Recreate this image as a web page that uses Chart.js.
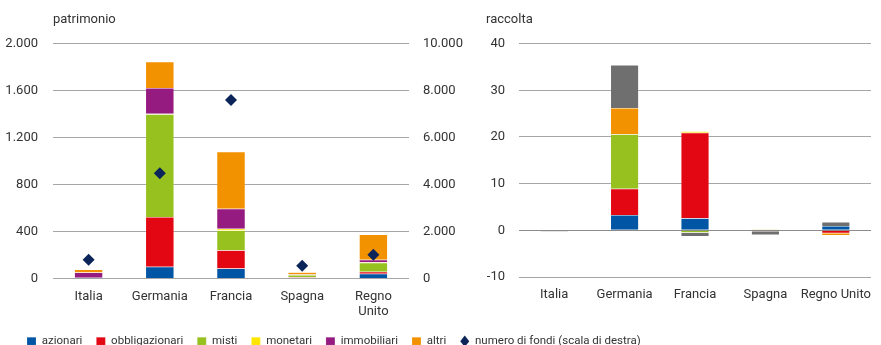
<!DOCTYPE html>
<html>
<head>
<meta charset="utf-8">
<script src="https://cdn.jsdelivr.net/npm/chart.js@4/dist/chart.umd.min.js"></script>
<style>
  html, body { margin: 0; padding: 0; background: #fff; overflow: hidden; }
  #wrap { position: relative; width: 881px; height: 345px; overflow: hidden; }
  .box { position: absolute; top: 0; }
</style>
</head>
<body>
<div id="wrap">
  <div class="box" style="left:0;width:881px;height:357px"><canvas id="patrimonio"></canvas></div>
  <div class="box" style="left:480px;width:401px;height:310px"><canvas id="raccolta"></canvas></div>
</div>
<script>
// categorie
const categorie = ['Italia', 'Germania', 'Francia', 'Spagna', 'Regno Unito'];
const categorieSx = [['Italia'], ['Germania'], ['Francia'], ['Spagna'], ['Regno', 'Unito']];

// patrimonio (scala di sinistra)
const patAzionari = [2, 100, 86, 6, 40];
const patObbligazionari = [2, 423, 154, 6, 18];
const patMisti = [2, 875, 169, 18, 77];
const patMonetari = [0, 5, 14, 2, 3];
const patImmobiliari = [45, 220, 171, 4, 22];
const patAltri = [26, 223, 486, 18, 214];
// numero di fondi (scala di destra)
const numeroFondi = [800, 4480, 7600, 540, 1010];

// raccolta
const racAzionari = [0, 3.3, 2.6, 0, 0.9];
const racObbligazionari = [0, 5.6, 18.3, -0.2, -0.65];
const racMisti = [0, 11.7, -0.5, 0.25, 0];
const racMonetari = [0, 0, 0.35, 0, 0];
const racImmobiliari = [0, 0, 0, 0, 0];
const racAltri = [0, 5.6, 0, 0, -0.45];
const racNonClassificati = [-0.3, 9.2, -0.85, -0.8, 0.9];

// tick
const tickPatrimonio = [0, 400, 800, 1200, 1600, 2000];
const tickFondi = [0, 2000, 4000, 6000, 8000, 10000];
const tickRaccolta = [-10, 0, 10, 20, 30, 40];

const colori = {
    azionari: '#0055a4',
    obbligazionari: '#e30613',
    misti: '#96c11f',
    monetari: '#ffe500',
    immobiliari: '#951b81',
    altri: '#f39200',
    grigio: '#6f6f6f',
    fondi: '#0b2459'
};

const font = 'Roboto, "Liberation Sans", sans-serif';
const testo = '#333';

function migliaia(v) {
    return String(v).replace(/\B(?=(\d{3})+(?!\d))/g, '.');
}

function barra(label, data, colore) {
    return {
        type: 'bar',
        label: label,
        data: data,
        backgroundColor: colore,
        borderColor: 'rgba(255,255,255,0.35)',
        borderWidth: 0.5,
        barPercentage: 0.4,
        categoryPercentage: 1,
        pointStyle: 'rect',
        yAxisID: 'y',
        order: 1
    };
}

const griglia = { color: '#a6a6a6', lineWidth: 1, drawTicks: false };

// sposta la legenda un po' a destra, come nell'originale
const spostaLegenda = {
    id: 'spostaLegenda',
    afterLayout(chart) {
        if (chart.legend) {
            chart.legend.left += 13;
            chart.legend.right += 13;
        }
    }
};

// grafico di sinistra: patrimonio (la tela copre tutta la larghezza per la legenda)
new Chart(document.getElementById('patrimonio'), {
    data: {
        labels: categorieSx,
        datasets: [
            barra('azionari', patAzionari, colori.azionari),
            barra('obbligazionari', patObbligazionari, colori.obbligazionari),
            barra('misti', patMisti, colori.misti),
            barra('monetari', patMonetari, colori.monetari),
            barra('immobiliari', patImmobiliari, colori.immobiliari),
            barra('altri', patAltri, colori.altri),
            {
                type: 'line',
                label: 'numero di fondi (scala di destra)',
                data: numeroFondi,
                showLine: false,
                pointStyle: 'rectRot',
                pointRadius: 6,
                backgroundColor: colori.fondi,
                borderColor: colori.fondi,
                borderWidth: 0,
                yAxisID: 'y1',
                order: 0
            }
        ]
    },
    plugins: [spostaLegenda],
    options: {
        responsive: true,
        maintainAspectRatio: false,
        animation: false,
        layout: { padding: 0 },
        plugins: {
            title: {
                display: true,
                text: 'patrimonio',
                align: 'start',
                fullSize: false,
                color: testo,
                font: { family: font, size: 13, weight: 'normal' },
                padding: { top: 12, bottom: 16 }
            },
            legend: {
                position: 'bottom',
                align: 'start',
                labels: {
                    usePointStyle: true,
                    pointStyleWidth: 9,
                    boxHeight: 8,
                    padding: 14,
                    color: testo,
                    font: { family: font, size: 11.5 },
                    sort: (a, b) => a.datasetIndex - b.datasetIndex
                }
            },
            tooltip: { enabled: false }
        },
        scales: {
            x: {
                stacked: true,
                grid: { display: false, drawTicks: false },
                border: { display: false },
                ticks: { color: testo, font: { family: font, size: 13 }, padding: 10, maxRotation: 0 },
                afterFit: function(scale) { scale.height = 43; }
            },
            y: {
                stacked: true,
                min: 0,
                max: 2000,
                afterBuildTicks: function(scale) { scale.ticks = tickPatrimonio.map(v => ({ value: v })); },
                grid: griglia,
                border: { display: false },
                ticks: { color: testo, font: { family: font, size: 13 }, padding: 15, callback: v => migliaia(v) },
                afterFit: function(scale) { scale.width = 53; }
            },
            y1: {
                position: 'right',
                min: 0,
                max: 10000,
                afterBuildTicks: function(scale) { scale.ticks = tickFondi.map(v => ({ value: v })); },
                grid: { display: false, drawTicks: false },
                border: { display: false },
                ticks: { color: testo, font: { family: font, size: 13 }, padding: 14, callback: v => migliaia(v) },
                afterFit: function(scale) { scale.width = 472; }
            }
        }
    }
});

// grafico di destra: raccolta
new Chart(document.getElementById('raccolta'), {
    data: {
        labels: categorie,
        datasets: [
            barra('azionari', racAzionari, colori.azionari),
            barra('obbligazionari', racObbligazionari, colori.obbligazionari),
            barra('misti', racMisti, colori.misti),
            barra('monetari', racMonetari, colori.monetari),
            barra('immobiliari', racImmobiliari, colori.immobiliari),
            barra('altri', racAltri, colori.altri),
            barra('non classificati', racNonClassificati, colori.grigio)
        ]
    },
    options: {
        responsive: true,
        maintainAspectRatio: false,
        animation: false,
        layout: { padding: { top: 0, bottom: 0, left: 6, right: 0 } },
        plugins: {
            title: {
                display: true,
                text: 'raccolta',
                align: 'start',
                color: testo,
                font: { family: font, size: 13, weight: 'normal' },
                padding: { top: 12, bottom: 16 }
            },
            legend: { display: false },
            tooltip: { enabled: false }
        },
        scales: {
            x: {
                stacked: true,
                grid: { display: false, drawTicks: false },
                border: { display: false },
                ticks: { color: testo, font: { family: font, size: 13 }, padding: 10, maxRotation: 0, autoSkip: false },
                afterFit: function(scale) { scale.height = 33; }
            },
            y: {
                stacked: true,
                min: -10,
                max: 40,
                afterBuildTicks: function(scale) { scale.ticks = tickRaccolta.map(v => ({ value: v })); },
                grid: {
                    drawTicks: false,
                    lineWidth: 1,
                    color: ctx => ctx.tick && ctx.tick.value === 0 ? '#8c8c8c' : '#a6a6a6'
                },
                border: { display: false },
                ticks: { color: testo, font: { family: font, size: 13 }, padding: 14 },
                afterFit: function(scale) { scale.width = 33; }
            }
        }
    }
});
</script>
</body>
</html>
